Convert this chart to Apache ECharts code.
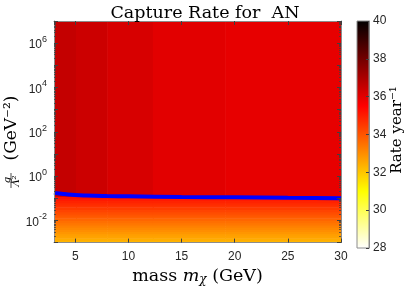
<!DOCTYPE html>
<html>
<head>
<meta charset="utf-8">
<script src="https://cdn.jsdelivr.net/npm/echarts@6/dist/echarts.min.js"></script>
<style>html,body{margin:0;padding:0;background:#fff;}#c{width:405px;height:291px;}</style>
</head>
<body>
<div id="c"></div>
<script>
// ---- data ----
const titleText = 'Capture Rate for  AN';
// x band edges (GeV) of the upper (constant-in-y) region
const xEdges = [3, 5.07, 8.0, 12.3, 19.1, 30];
// rate in the upper region, one value per x band
const upperValues = [36.55, 36.4, 36.2, 36.02, 35.93];
const upperBottomExp = -0.9;   // log10 of lower edge of the upper region
const upperTopExp = 7;
// lower region: horizontal rows (log10 of lower edge) and their rate
const lowerRowExps = [-3.0, -2.9, -2.8, -2.7, -2.6, -2.5, -2.4, -2.3, -2.2, -2.1, -2.0,
                      -1.9, -1.8, -1.7, -1.6, -1.5, -1.4, -1.3, -1.2, -1.1, -1.0];
const lowerValues  = [32.3, 32.45, 32.6, 32.7, 32.85, 33.0, 33.1, 33.25, 33.4, 33.55, 33.7,
                      33.85, 34.0, 34.15, 34.3, 34.45, 34.6, 34.75, 34.9, 35.05, 35.2];
// blue boundary line
const lineX = [3, 3.5, 4, 5, 6, 8, 10, 15, 20, 25, 30];
const lineY = [0.18, 0.165, 0.155, 0.14, 0.133, 0.126, 0.122, 0.115, 0.11, 0.105, 0.101];
// axes
const xMin = 3, xMax = 30;
const yMinExp = -3, yMaxExp = 7;
const yLabelExps = [-2, 0, 2, 4, 6];
// colour bar
const cbMin = 28, cbMax = 40, cbStep = 2;
// reversed "hot" colormap, evenly spaced from cbMin to cbMax
const hotColors = ['#ffffff', '#ffff80', '#ffff00', '#ffaa00', '#ff5500', '#ff0000', '#aa0000', '#550000', '#000000'];

// ---- build cells (y in log10 units) ----
const cells = [];
for (let i = 0; i < xEdges.length - 1; i++) {
  for (let j = 0; j < lowerRowExps.length; j++) {
    const e0 = lowerRowExps[j];
    const e1 = j + 1 < lowerRowExps.length ? lowerRowExps[j + 1] : upperBottomExp;
    cells.push([xEdges[i], xEdges[i + 1], e0, e1, lowerValues[j]]);
  }
  cells.push([xEdges[i], xEdges[i + 1], upperBottomExp, upperTopExp, upperValues[i]]);
}
const lineData = lineX.map((x, k) => [x, Math.log10(lineY[k])]);
// minor log ticks (2..9 x 10^n)
const minorTickVals = [];
for (let e = yMinExp; e < yMaxExp; e++) {
  for (let k = 2; k <= 9; k++) minorTickVals.push(e + Math.log10(k));
}

const serif = 'DejaVu Serif';
const sans = 'Liberation Sans';
const lineCol = '#8c8c8c';
const tickCol = '#404040';
const labCol = '#262626';

const chart = echarts.init(document.getElementById('c'), null, {renderer: 'canvas'});
const supFmt = function (v) {
  const e = Math.round(v);
  return '{b|10}{s|' + e + '}';
};
function yAx(pos, labels) {
  return {
    gridIndex: 0, type: 'value', min: yMinExp, max: yMaxExp, interval: 1, position: pos, z: 5,
    axisLine: {show: true, onZero: false, lineStyle: {color: lineCol, width: 1}},
    axisTick: {show: true, inside: true, length: 4, lineStyle: {color: tickCol}},
    axisLabel: labels ? {
      customValues: yLabelExps,
      formatter: supFmt, margin: 7,
      rich: {
        b: {fontFamily: sans, fontSize: 12, color: labCol, lineHeight: 16, verticalAlign: 'bottom'},
        s: {fontFamily: sans, fontSize: 9, color: labCol, lineHeight: 16, verticalAlign: 'top'}
      }
    } : {show: false},
    splitLine: {show: false}
  };
}
function yMinorAx(pos) {
  return {
    gridIndex: 0, type: 'value', min: yMinExp, max: yMaxExp, position: pos, z: 5,
    axisLine: {show: false, onZero: false},
    axisTick: {show: true, inside: true, length: 2, customValues: minorTickVals, lineStyle: {color: tickCol, width: 0.8}},
    axisLabel: {show: false}, splitLine: {show: false}
  };
}
chart.setOption({
  animation: false,
  title: {
    text: titleText, left: 200, top: -1, textAlign: 'center',
    textStyle: {fontFamily: serif, fontSize: 17.5, fontWeight: 'normal', color: '#000'}
  },
  grid: [
    {left: 54, right: 64, top: 21, bottom: 43},
    {left: 357, width: 12, top: 21, bottom: 43}
  ],
  visualMap: {
    show: false, type: 'continuous', min: cbMin, max: cbMax, dimension: 4, seriesIndex: 0,
    inRange: {color: hotColors}
  },
  xAxis: [
    {
      gridIndex: 0, type: 'value', min: xMin, max: xMax, position: 'bottom', z: 5,
      axisLine: {show: true, onZero: false, lineStyle: {color: lineCol, width: 1}},
      axisTick: {show: true, inside: true, length: 4, lineStyle: {color: tickCol}},
      axisLabel: {color: labCol, fontFamily: sans, fontSize: 12, margin: 8, showMinLabel: false},
      splitLine: {show: false},
      name: '{a|mass }{i|m}{s|χ}{a| (GeV)}', nameLocation: 'middle', nameGap: 19,
      nameTextStyle: {
        rich: {
          a: {fontFamily: serif, fontSize: 17.5, color: '#000'},
          i: {fontFamily: serif, fontSize: 17.5, fontStyle: 'italic', color: '#000'},
          s: {fontFamily: serif, fontSize: 12, fontStyle: 'italic', color: '#000', padding: [7, 0, 0, 0]}
        }
      }
    },
    {
      gridIndex: 0, type: 'value', min: xMin, max: xMax, position: 'top', z: 5,
      axisLine: {show: true, onZero: false, lineStyle: {color: lineCol, width: 1}},
      axisTick: {show: true, inside: true, length: 4, lineStyle: {color: tickCol}},
      axisLabel: {show: false}, splitLine: {show: false}
    },
    {gridIndex: 1, type: 'value', min: 0, max: 1, show: false}
  ],
  yAxis: [
    yAx('left', true),
    yAx('right', false),
    {
      gridIndex: 1, type: 'value', min: cbMin, max: cbMax, interval: cbStep, position: 'right', z: 5,
      axisLine: {show: true, onZero: false, lineStyle: {color: lineCol, width: 1}},
      axisTick: {show: true, inside: true, length: 3, lineStyle: {color: tickCol}},
      axisLabel: {color: labCol, fontFamily: sans, fontSize: 12, margin: 4},
      splitLine: {show: false}
    },
    yMinorAx('left'),
    yMinorAx('right')
  ],
  graphic: [
    {type: 'text', x: 12, y: 128, rotation: Math.PI / 2,
     style: {text: '(GeV⁻²)', font: '17px "DejaVu Serif"', fill: '#000', align: 'center', verticalAlign: 'middle'}},
    {type: 'text', x: 7, y: 180, rotation: Math.PI / 2,
     style: {text: 'g', font: 'italic 10px "DejaVu Serif"', fill: '#000', align: 'center', verticalAlign: 'middle'}},
    {type: 'line', shape: {x1: 11, y1: 173, x2: 11, y2: 188}, style: {stroke: '#000', lineWidth: 0.7}},
    {type: 'text', x: 16, y: 181, rotation: Math.PI / 2,
     style: {text: 'Λ²', font: 'italic 10px "DejaVu Serif"', fill: '#000', align: 'center', verticalAlign: 'middle'}},
    {type: 'text', x: 397, y: 130, rotation: Math.PI / 2,
     style: {text: 'Rate year⁻¹', font: '15px "DejaVu Serif"', fill: '#000', align: 'center', verticalAlign: 'middle'}}
  ],
  series: [
    {
      type: 'custom', xAxisIndex: 0, yAxisIndex: 0, clip: true, z: 1,
      encode: {x: [0, 1], y: [2, 3]},
      data: cells,
      renderItem: function (params, api) {
        const p0 = api.coord([api.value(0), api.value(2)]);
        const p1 = api.coord([api.value(1), api.value(3)]);
        const x = Math.min(p0[0], p1[0]), y = Math.min(p0[1], p1[1]);
        return {
          type: 'rect',
          shape: {x: x, y: y, width: Math.abs(p1[0] - p0[0]) + 0.6, height: Math.abs(p1[1] - p0[1]) + 0.6},
          style: {fill: api.visual('color')}
        };
      }
    },
    {
      type: 'line', xAxisIndex: 0, yAxisIndex: 0, z: 3, data: lineData, smooth: true,
      symbol: 'none', lineStyle: {color: '#0000ff', width: 4}
    },
    {
      type: 'custom', xAxisIndex: 2, yAxisIndex: 2, z: 1, data: [[0]],
      renderItem: function (params, api) {
        const a = api.coord([0, cbMax]);
        const b = api.coord([1, cbMin]);
        const stops = hotColors.slice().reverse().map((c, k, arr) => ({offset: k / (arr.length - 1), color: c}));
        return {
          type: 'rect',
          shape: {x: a[0], y: a[1], width: b[0] - a[0], height: b[1] - a[1]},
          style: {fill: new echarts.graphic.LinearGradient(0, 0, 0, 1, stops), stroke: lineCol, lineWidth: 1}
        };
      }
    }
  ]
});
</script>
</body>
</html>
